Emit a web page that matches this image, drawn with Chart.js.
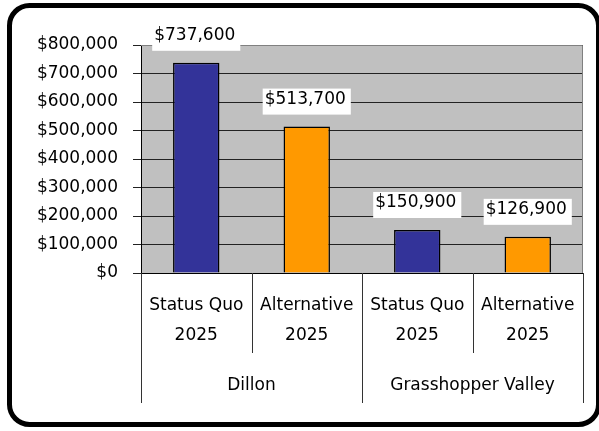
<!DOCTYPE html>
<html>
<head>
<meta charset="utf-8">
<script src="https://cdn.jsdelivr.net/npm/chart.js@4.4.0/dist/chart.umd.min.js"></script>
<style>
  html, body { margin: 0; padding: 0; background: #fff; }
  canvas { display: block; }
</style>
</head>
<body>
<canvas id="chart" width="599" height="431"></canvas>
<script>
// chart data
const scenarios = [['Status Quo', '2025'], ['Alternative', '2025'], ['Status Quo', '2025'], ['Alternative', '2025']];
const groups = ['Dillon', 'Grasshopper Valley'];
const groupSizes = [2, 2];
const costs = [737600, 513700, 150900, 126900];
const barColors = ['#333399', '#FF9900', '#333399', '#FF9900'];
const yMax = 800000;
const yStep = 100000;

const FONT = 'DejaVu Sans';
const money = v => '$' + Number(v).toLocaleString('en-US');

Chart.defaults.font.family = FONT;
Chart.defaults.font.size = 17;
Chart.defaults.color = '#000';

// background, plot border, value labels, two-level category axis, outer frame
const frame = {
  id: 'frame',
  beforeDraw(chart) {
    const { ctx, chartArea: a } = chart;
    ctx.save();
    ctx.fillStyle = '#fff';
    ctx.fillRect(0, 0, chart.width, chart.height);
    ctx.fillStyle = '#C0C0C0';
    ctx.fillRect(a.left, a.top, a.right - a.left, a.bottom - a.top);
    ctx.restore();
  },
  beforeDatasetsDraw(chart) {
    const { ctx, chartArea: a } = chart;
    ctx.save();
    ctx.strokeStyle = '#808080';
    ctx.lineWidth = 1;
    ctx.beginPath();
    ctx.moveTo(a.left, a.top + 0.5);
    ctx.lineTo(a.right - 0.5, a.top + 0.5);
    ctx.lineTo(a.right - 0.5, a.bottom);
    ctx.stroke();
    ctx.restore();
  },
  afterDatasetsDraw(chart) {
    const { ctx } = chart;
    const meta = chart.getDatasetMeta(0);
    ctx.save();
    ctx.font = '17px "' + FONT + '"';
    ctx.textBaseline = 'middle';
    ctx.textAlign = 'left';
    meta.data.forEach((bar, i) => {
      const txt = money(costs[i]);
      const w = ctx.measureText(txt).width;
      const cy = bar.y - 27;
      const bw = w + 7;
      const bx = bar.x - bw / 2;
      ctx.fillStyle = '#fff';
      ctx.fillRect(bx, cy - 11, bw, 26);
      ctx.fillStyle = '#000';
      ctx.fillText(txt, bx + 2, cy);
    });
    ctx.restore();
  },
  afterDraw(chart) {
    const { ctx, chartArea: a } = chart;
    const xs = chart.scales.x;
    const px = i => xs.getPixelForValue(i);
    const edge = i => {
      if (i <= 0) return a.left;
      if (i >= scenarios.length) return a.right;
      return (px(i - 1) + px(i)) / 2;
    };
    ctx.save();
    ctx.strokeStyle = '#333';
    ctx.lineWidth = 1;
    // group boundaries (long) and scenario boundaries (short)
    const groupEdges = [0];
    groupSizes.forEach(n => groupEdges.push(groupEdges[groupEdges.length - 1] + n));
    for (let i = 0; i <= scenarios.length; i++) {
      const x = Math.round(edge(i)) + 0.5;
      const long = groupEdges.includes(i);
      ctx.beginPath();
      ctx.moveTo(x, a.bottom);
      ctx.lineTo(x, long ? 403 : 353);
      ctx.stroke();
    }
    ctx.font = '17px "' + FONT + '"';
    ctx.fillStyle = '#000';
    ctx.textAlign = 'center';
    ctx.textBaseline = 'middle';
    scenarios.forEach((lines, i) => {
      ctx.fillText(lines[0], px(i), 306);
      ctx.fillText(lines[1], px(i), 336);
    });
    groups.forEach((g, k) => {
      const x0 = edge(groupEdges[k]);
      const x1 = edge(groupEdges[k + 1]);
      ctx.fillText(g, (x0 + x1) / 2, 386);
    });
    // outer rounded frame
    ctx.strokeStyle = '#000';
    ctx.lineWidth = 5;
    ctx.beginPath();
    ctx.roundRect(9.5, 5.5, 589, 419, 20);
    ctx.stroke();
    ctx.restore();
  }
};

new Chart(document.getElementById('chart'), {
  type: 'bar',
  data: {
    labels: scenarios.map(s => s.join(' ')),
    datasets: [{
      data: costs,
      backgroundColor: barColors,
      borderColor: '#000',
      borderWidth: 1.5,
      barPercentage: 0.42,
      categoryPercentage: 1
    }]
  },
  options: {
    responsive: false,
    animation: false,
    devicePixelRatio: 1,
    layout: { padding: { left: 37, top: 45, right: 16, bottom: 158 } },
    plugins: { legend: { display: false }, tooltip: { enabled: false } },
    scales: {
      x: {
        ticks: { display: false },
        grid: { display: false },
        border: { display: true, color: '#000', width: 1 },
        afterFit: s => { s.height = 0; }
      },
      y: {
        min: 0,
        max: yMax,
        ticks: { stepSize: yStep, padding: 15, callback: v => money(v), font: { size: 17 } },
        grid: { color: '#222', lineWidth: 1, tickLength: 8, drawTicks: true },
        border: { display: true, color: '#000', width: 1 },
        afterFit: s => { s.width = 104; }
      }
    }
  },
  plugins: [frame]
});
</script>
</body>
</html>
